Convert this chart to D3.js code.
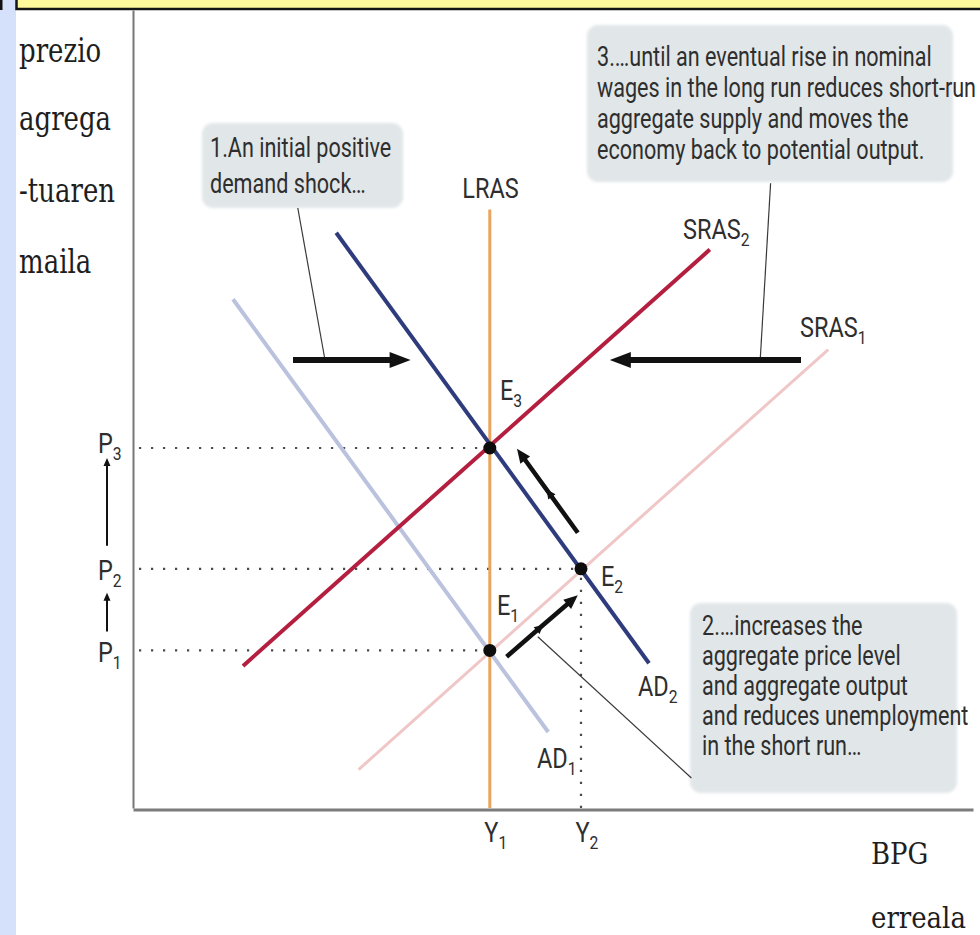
<!DOCTYPE html>
<html>
<head>
<meta charset="utf-8">
<script src="https://cdnjs.cloudflare.com/ajax/libs/d3/7.8.5/d3.min.js"></script>
<style>
html, body { margin: 0; padding: 0; background: #fff; }
svg { display: block; }
.sans { font-family: "Liberation Sans Narrow", "Roboto", sans-serif; fill: #2e2e2e; }
.serif { font-family: "DejaVu Serif", "Liberation Serif", serif; fill: #1e1e1e; }
</style>
</head>
<body>
<div id="chart"></div>
<script>
var width = 980,
height = 935;

var outputLevels = [4.46, 5.6];          // Y1, Y2
var outputSubs = ["1", "2"];
var priceLevels = [1.97, 2.99, 4.5];     // P1, P2, P3
var priceSubs = ["1", "2", "3"];

var curveBase = ["AD", "SRAS", "LRAS", "AD", "SRAS"];
var curveSub = ["1", "1", "", "2", "2"];
var curveStart = [[1.25, 6.36], [2.82, 0.48], [4.46, 0], [2.54, 7.19], [1.375, 1.775]];
var curveEnd = [[5.19, 0.95], [8.69, 5.73], [4.46, 7.48], [6.45, 1.81], [7.21, 6.98]];

var equilibriumX = [4.46, 5.6, 4.46];    // E1, E2, E3
var equilibriumY = [1.97, 2.99, 4.5];
var equilibriumSubs = ["1", "2", "3"];

var shiftArrows = [
  [[2.0, 5.6], [3.47, 5.6]],
  [[8.35, 5.6], [5.96, 5.6]]
];
var moveArrows = [
  [[4.67, 1.89], [5.13, 2.29], [5.56, 2.66]],
  [[5.56, 3.44], [5.17, 3.98], [4.80, 4.49]]
];
var leaderLines = [
  [[2.06, 7.5], [2.4, 5.6]],
  [[5.06, 2.14], [6.98, 0.375]],
  [[7.97, 7.81], [7.84, 5.6]]
];

var note1 = ["1.An initial positive", "demand shock…"];
var note2 = ["2.…increases the", "aggregate price level", "and aggregate output", "and reduces unemployment", "in the short run…"];
var note3 = ["3.…until an eventual rise in nominal", "wages in the long run reduces short-run", "aggregate supply and moves the", "economy back to potential output."];

var yTitle = ["prezio", "agrega", "-tuaren", "maila"];
var xTitle = ["BPG", "erreala"];

// ---- styles / layout ----
var curveColours = ["#bac2de", "#f0c7c7", "#e9a55e", "#2e3b7c", "#b41f40"];
var curveWidths = [4, 3, 3, 4, 4];
var curveLabelPos = [[537, 768, "start"], [800, 337, "start"], [490.5, 198, "middle"], [638, 696, "start"], [683, 239, "start"]];
var eqLabelPos = [[497, 615], [601, 586], [500, 400]];
var priceLabelDy = [11, 11, 4];

// the original lettering is a tall, condensed face: squeeze a normal one
var noteSqueeze = 0.8,
labelSqueeze = 0.87;

var x = d3.scaleLinear().domain([0, 10.5]).range([133, 973]);
var y = d3.scaleLinear().domain([0, 9.975]).range([808, 10]);

var svg = d3.select("#chart")
.append("svg")
.attr("width", width)
.attr("height", height);

var defs = svg.append("defs");
defs.append("filter")
.attr("id", "soft")
.attr("x", "-5%").attr("y", "-5%").attr("width", "110%").attr("height", "110%")
.append("feGaussianBlur")
.attr("stdDeviation", 1.5);

// page frame: blue strip on the left, yellow banner on top
svg.append("rect")
.attr("x", 0).attr("y", 0)
.attr("width", 16).attr("height", height)
.style("fill", "#d5e1fa");
svg.append("rect")
.attr("x", 0).attr("y", 0)
.attr("width", 2.5).attr("height", 10)
.style("fill", "#111");
svg.append("rect")
.attr("x", 16.5).attr("y", -6)
.attr("width", 975).attr("height", 15)
.style("fill", "#fdf89c")
.style("stroke", "#141414")
.style("stroke-width", 2.5);

// annotation boxes
function noteBox(x0, y0, w, h, lines, tx, ty, lh) {
  svg.append("rect")
  .attr("x", x0).attr("y", y0)
  .attr("width", w).attr("height", h)
  .attr("rx", 11)
  .style("fill", "#e1e6e8")
  .attr("filter", "url(#soft)");
  svg.append("g")
  .attr("transform", "translate(" + tx + "," + ty + ") scale(" + noteSqueeze + ",1)")
  .append("text")
  .attr("class", "sans")
  .style("font-size", "27px")
  .selectAll("tspan")
  .data(lines)
  .enter().append("tspan")
  .attr("x", 0)
  .attr("y", function(d, i) { return i * lh; })
  .text(function(d) { return d; });
}
noteBox(202, 123, 201, 85, note1, 210, 157, 36);
noteBox(587, 25, 366, 157, note3, 597, 66, 31);
noteBox(690, 603, 267, 190, note2, 702, 635, 30);

// label with subscript, squeezed horizontally
function subLabel(parent, px, py, base, sub, anchor) {
  var t = parent.append("g")
  .attr("transform", "translate(" + px + "," + py + ") scale(" + labelSqueeze + ",1)")
  .append("text")
  .attr("class", "sans")
  .attr("text-anchor", anchor || "start")
  .style("font-size", "27px");
  t.append("tspan").text(base);
  if (sub) {
    t.append("tspan").attr("dy", 7).style("font-size", "18px").text(sub);
  }
}

// axes
var xAxis = svg.append("g")
.attr("transform", "translate(0," + (y(0) + 1.5) + ")")
.call(d3.axisBottom(x).tickValues(outputLevels).tickSize(0).tickSizeOuter(0).tickFormat(""));
xAxis.select(".domain").style("stroke", "#7c7c7c").style("stroke-width", 3);
xAxis.selectAll(".tick text").remove();
xAxis.selectAll(".tick").each(function(d, i) {
  subLabel(d3.select(this), -6, 32, "Y", outputSubs[i]);
});

var yAxis = svg.append("g")
.attr("transform", "translate(" + x(0) + ",0)")
.call(d3.axisLeft(y).tickValues(priceLevels).tickSize(0).tickSizeOuter(0).tickFormat(""));
yAxis.select(".domain").style("stroke", "#777").style("stroke-width", 2);
yAxis.selectAll(".tick text").remove();
yAxis.selectAll(".tick").each(function(d, i) {
  subLabel(d3.select(this), -35, priceLabelDy[i], "P", priceSubs[i]);
});

// arrows
function arrowHead(g, tip, ux, uy, len, hw) {
  var bx = tip[0] - ux * len, by = tip[1] - uy * len;
  g.append("path")
  .attr("d", "M" + tip[0] + "," + tip[1] +
    "L" + (bx - uy * hw) + "," + (by + ux * hw) +
    "L" + (bx + uy * hw) + "," + (by - ux * hw) + "Z")
  .style("fill", "#111");
}

function arrow(g, pts, w, len, hw) {
  var n = pts.length, a = pts[n - 2], b = pts[n - 1];
  var dx = b[0] - a[0], dy = b[1] - a[1], L = Math.hypot(dx, dy);
  var ux = dx / L, uy = dy / L;
  var body = pts.slice(0, n - 1).concat([[b[0] - ux * (len - 2), b[1] - uy * (len - 2)]]);
  g.append("path")
  .attr("d", d3.line()(body))
  .style("fill", "none")
  .style("stroke", "#111")
  .style("stroke-width", w);
  arrowHead(g, b, ux, uy, len, hw);
  return [ux, uy];
}

// y-axis price arrows (P1 -> P2 -> P3)
var priceArrows = svg.append("g");
arrow(priceArrows, [[107, y(priceLevels[0]) - 19], [107, y(priceLevels[1]) + 24]], 2, 8, 3.5);
arrow(priceArrows, [[107, y(priceLevels[1]) - 23], [107, y(priceLevels[2]) + 10]], 2, 8, 3.5);

// dotted guides
var guides = svg.append("g")
.style("stroke", "#4a4a4a")
.style("stroke-width", 2.2)
.style("stroke-dasharray", "2.2,9.8");
guides.selectAll("line.h")
.data(priceLevels)
.enter().append("line")
.attr("class", "h")
.attr("x1", x(0) + 6)
.attr("x2", function(d, i) { return x(equilibriumX[i]); })
.attr("y1", function(d) { return y(d); })
.attr("y2", function(d) { return y(d); });
guides.append("line")
.attr("x1", x(outputLevels[1])).attr("x2", x(outputLevels[1]))
.attr("y1", y(0)).attr("y2", y(priceLevels[1]));

// leader lines from the notes
svg.append("g")
.selectAll("line")
.data(leaderLines)
.enter().append("line")
.attr("x1", function(d) { return x(d[0][0]); })
.attr("y1", function(d) { return y(d[0][1]); })
.attr("x2", function(d) { return x(d[1][0]); })
.attr("y2", function(d) { return y(d[1][1]); })
.style("stroke", "#3a3a3a")
.style("stroke-width", 1.2);

// curves
var curves = svg.append("g");
curves.selectAll("line")
.data(curveBase)
.enter().append("line")
.attr("x1", function(d, i) { return x(curveStart[i][0]); })
.attr("y1", function(d, i) { return y(curveStart[i][1]); })
.attr("x2", function(d, i) { return x(curveEnd[i][0]); })
.attr("y2", function(d, i) { return y(curveEnd[i][1]); })
.style("stroke", function(d, i) { return curveColours[i]; })
.style("stroke-width", function(d, i) { return curveWidths[i]; });

curveBase.forEach(function(name, i) {
  subLabel(svg, curveLabelPos[i][0], curveLabelPos[i][1], name, curveSub[i], curveLabelPos[i][2]);
});

// shift arrows (thick horizontal)
var shifts = svg.append("g");
shiftArrows.forEach(function(a) {
  arrow(shifts, a.map(function(p) { return [x(p[0]), y(p[1])]; }), 6, 21, 8);
});

// movement arrows along the curves, with a small chevron midway
var moves = svg.append("g");
moveArrows.forEach(function(a) {
  var pts = a.map(function(p) { return [x(p[0]), y(p[1])]; });
  var u = arrow(moves, pts, 4.5, 14, 6);
  arrowHead(moves, pts[1], u[0], u[1], 9, 4.5);
});

// equilibrium points
svg.append("g")
.selectAll("circle")
.data(equilibriumX)
.enter().append("circle")
.attr("cx", function(d) { return x(d); })
.attr("cy", function(d, i) { return y(equilibriumY[i]); })
.attr("r", 6.5)
.style("fill", "#0d0d0d");

equilibriumSubs.forEach(function(s, i) {
  subLabel(svg, eqLabelPos[i][0], eqLabelPos[i][1], "E", s);
});

// axis titles (Basque), drawn a bit taller like the original lettering
[62, 130, 202, 273].forEach(function(by, i) {
  svg.append("g")
  .attr("transform", "translate(19," + by + ") scale(1,1.3)")
  .append("text")
  .attr("class", "serif")
  .style("font-size", "26px")
  .text(yTitle[i]);
});

[864, 928].forEach(function(by, i) {
  svg.append("g")
  .attr("transform", "translate(871," + by + ") scale(1,1.15)")
  .append("text")
  .attr("class", "serif")
  .style("font-size", "26px")
  .text(xTitle[i]);
});
</script>
</body>
</html>
